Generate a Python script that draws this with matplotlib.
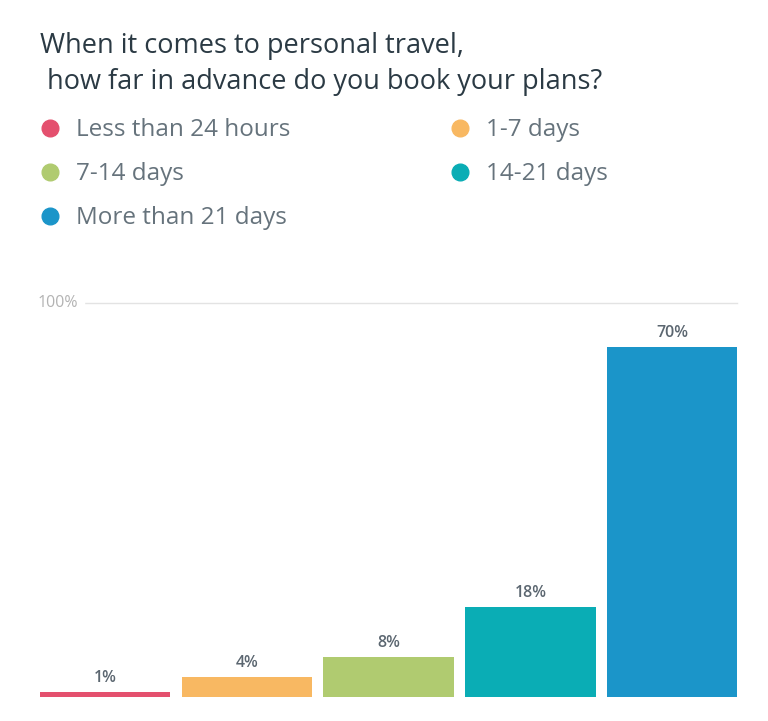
import matplotlib.pyplot as plt
from matplotlib.lines import Line2D

# data
categories = ["Less than 24 hours", "1-7 days", "7-14 days", "14-21 days", "More than 21 days"]
values = [1, 4, 8, 18, 70]
colors = ["#E4506E", "#F8B862", "#B0CB70", "#0AADB5", "#1B95C9"]
title = "When it comes to personal travel,\n how far in advance do you book your plans?"

plt.rcParams["font.family"] = ["Open Sans", "DejaVu Sans"]

fig = plt.figure(figsize=(7.68, 7.21), dpi=100)
ax = fig.add_axes([0.052, 0.0333, 0.908, 0.5465])

x = range(len(values))
bars = ax.bar(x, values, width=0.92, color=colors, zorder=2)
for b, v in zip(bars, values):
    ax.text(b.get_x() + b.get_width() / 2, v + 2.7, f"{v}%", ha="center", va="center",
            fontsize=11.5, color="#5b6670", fontweight="semibold")

# the chart frame top carries the "100%" line, as in the original
ax.set_xlim(-0.46, 4.46)
ax.set_ylim(0, 78.8)
for s in ["left", "right", "bottom"]:
    ax.spines[s].set_visible(False)
ax.spines["top"].set_color("#e3e3e3")
ax.spines["top"].set_linewidth(1)
ax.set_xticks([])
ax.set_yticks([])
ax.text(-0.003, 1.0, "100%", transform=ax.transAxes, ha="left", va="center",
        fontsize=11.5, color="#b3b3b3", backgroundcolor="white")

fig.text(0.052, 0.955, title, ha="left", va="top", fontsize=19.5, color="#2b3a44",
         linespacing=1.38)

# legend laid out column-wise: left column three, right column two
order = [0, 2, 4, 1, 3]
handles = [Line2D([], [], marker="o", linestyle="", markersize=12,
                  markerfacecolor=colors[i], markeredgecolor=colors[i]) for i in order]
labels = [categories[i] for i in order]
fig.legend(handles, labels, loc="upper left", bbox_to_anchor=(0.018, 0.866), ncol=2,
           frameon=False, fontsize=17.5, labelcolor="#66737c", handletextpad=0.45,
           columnspacing=6.4, labelspacing=0.82, handlelength=1.2)

fig.savefig("out.png", dpi=100)
